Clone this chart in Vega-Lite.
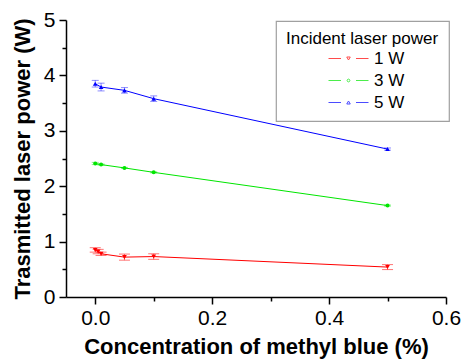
{
  "$schema": "https://vega.github.io/schema/vega-lite/v6.json",
  "autosize": {"type": "none"},
  "width": 380,
  "height": 277,
  "padding": {"left": 66, "top": 20, "right": 17, "bottom": 63},
  "background": "white",
  "config": {
    "view": {"stroke": null},
    "font": "Liberation Sans",
    "legend": {"strokeWidth": 1.2}
  },
  "data": {
    "values": [
      {"c": 0.0, "p": 0.85, "err": 0.04, "power": "1 W"},
      {"c": 0.005, "p": 0.82, "err": 0.04, "power": "1 W"},
      {"c": 0.01, "p": 0.78, "err": 0.03, "power": "1 W"},
      {"c": 0.05, "p": 0.72, "err": 0.055, "power": "1 W"},
      {"c": 0.1, "p": 0.73, "err": 0.05, "power": "1 W"},
      {"c": 0.5, "p": 0.54, "err": 0.045, "power": "1 W"},
      {"c": 0.0, "p": 2.41, "err": 0.02, "power": "3 W"},
      {"c": 0.01, "p": 2.39, "err": 0.01, "power": "3 W"},
      {"c": 0.05, "p": 2.33, "err": 0.01, "power": "3 W"},
      {"c": 0.1, "p": 2.25, "err": 0.01, "power": "3 W"},
      {"c": 0.5, "p": 1.65, "err": 0.01, "power": "3 W"},
      {"c": 0.0, "p": 3.85, "err": 0.06, "power": "5 W"},
      {"c": 0.01, "p": 3.79, "err": 0.07, "power": "5 W"},
      {"c": 0.05, "p": 3.73, "err": 0.05, "power": "5 W"},
      {"c": 0.1, "p": 3.58, "err": 0.05, "power": "5 W"},
      {"c": 0.5, "p": 2.67, "err": 0.02, "power": "5 W"}
    ]
  },
  "encoding": {
    "x": {
      "field": "c", "type": "quantitative",
      "scale": {"domain": [-0.05, 0.6], "nice": false, "zero": false},
      "axis": {
        "title": "Concentration of methyl blue (%)",
        "values": [0, 0.1, 0.2, 0.3, 0.4, 0.5, 0.6],
        "labelExpr": "round(datum.value*10) % 2 == 1 ? '' : format(datum.value, '.1f')",
        "tickSize": {"condition": {"test": "round(datum.value*10) % 2 == 1", "value": 4}, "value": 7},
        "grid": false,
        "labelFlush": false,
        "labelOverlap": false,
        "domainColor": "black", "domainWidth": 1.5,
        "tickColor": "black", "tickWidth": 1.5,
        "labelFont": "Liberation Sans", "labelFontSize": 21, "labelColor": "black", "labelPadding": 3,
        "titleFont": "Liberation Sans", "titleFontSize": 22, "titleFontWeight": "bold", "titleColor": "black", "titlePadding": 8
      }
    },
    "y": {
      "field": "p", "type": "quantitative",
      "scale": {"domain": [0, 5], "nice": false},
      "axis": {
        "title": "Trasmitted laser power (W)",
        "values": [0, 0.5, 1, 1.5, 2, 2.5, 3, 3.5, 4, 4.5, 5],
        "labelExpr": "datum.value % 1 != 0 ? '' : format(datum.value, 'd')",
        "tickSize": {"condition": {"test": "datum.value % 1 != 0", "value": 4}, "value": 7},
        "grid": false,
        "labelOverlap": false,
        "domainColor": "black", "domainWidth": 1.5,
        "tickColor": "black", "tickWidth": 1.5,
        "labelFont": "Liberation Sans", "labelFontSize": 21, "labelColor": "black", "labelPadding": 4,
        "titleFont": "Liberation Sans", "titleFontSize": 22, "titleFontWeight": "bold", "titleColor": "black", "titlePadding": 9
      }
    },
    "color": {
      "field": "power", "type": "nominal",
      "scale": {"domain": ["1 W", "3 W", "5 W"], "range": ["#ff0000", "#00e600", "#0000ff"]},
      "legend": null
    }
  },
  "layer": [
    {"mark": {"type": "line", "strokeWidth": 1}},
    {
      "transform": [{"filter": "datum.power == '1 W'"}],
      "mark": {"type": "errorbar", "ticks": {"size": 11}, "opacity": 0.55, "thickness": 1},
      "encoding": {"yError": {"field": "err"}}
    },
    {
      "transform": [{"filter": "datum.power != '1 W'"}],
      "mark": {"type": "errorbar", "ticks": {"size": 7}, "opacity": 0.45, "thickness": 1},
      "encoding": {"yError": {"field": "err"}}
    },
    {
      "transform": [{"filter": "datum.power == '1 W'"}],
      "mark": {"type": "point", "shape": "triangle-down", "filled": true, "size": 22, "opacity": 1}
    },
    {
      "transform": [{"filter": "datum.power == '3 W'"}],
      "mark": {"type": "point", "shape": "circle", "filled": true, "size": 16, "opacity": 1}
    },
    {
      "transform": [{"filter": "datum.power == '5 W'"}],
      "mark": {"type": "point", "shape": "triangle-up", "filled": true, "size": 22, "opacity": 1}
    },
    {
      "mark": {"type": "point", "filled": false, "size": 0, "strokeWidth": 1},
      "encoding": {
        "color": {"value": "black"},
        "stroke": {
          "field": "power", "type": "nominal",
          "scale": {"range": ["#ff0000", "#00e600", "#0000ff"]},
          "legend": {
            "title": "Incident laser power",
            "orient": "none",
            "legendX": 210,
            "legendY": 1,
            "padding": 10,
            "strokeColor": "#a0a0a0",
            "fillColor": "white",
            "titleFont": "Liberation Sans", "titleFontSize": 17, "titleFontWeight": "normal", "titleColor": "black",
            "titlePadding": 2,
            "labelFont": "Liberation Sans", "labelFontSize": 17, "labelColor": "black",
            "symbolSize": 100,
            "symbolOffset": 54,
            "labelOffset": 17,
            "rowPadding": 4,
            "symbolStrokeWidth": 1
          }
        },
        "shape": {
          "field": "power", "type": "nominal",
          "scale": {
            "range": [
              "M-4,0H-1.5M1.5,0H4M-0.35,-0.3L0.35,-0.3L0,0.3Z",
              "M-4,0H-1.5M1.5,0H4M-0.28,0A0.28,0.28,0,1,0,0.28,0A0.28,0.28,0,1,0,-0.28,0Z",
              "M-4,0H-1.5M1.5,0H4M-0.35,0.3L0.35,0.3L0,-0.3Z"
            ]
          },
          "legend": {
            "title": "Incident laser power",
            "orient": "none",
            "legendX": 210,
            "legendY": 1,
            "padding": 10,
            "strokeColor": "#a0a0a0",
            "fillColor": "white",
            "titleFont": "Liberation Sans", "titleFontSize": 17, "titleFontWeight": "normal", "titleColor": "black",
            "titlePadding": 2,
            "labelFont": "Liberation Sans", "labelFontSize": 17, "labelColor": "black",
            "symbolSize": 100,
            "symbolOffset": 54,
            "labelOffset": 17,
            "rowPadding": 4,
            "symbolStrokeWidth": 1
          }
        }
      }
    }
  ]
}
